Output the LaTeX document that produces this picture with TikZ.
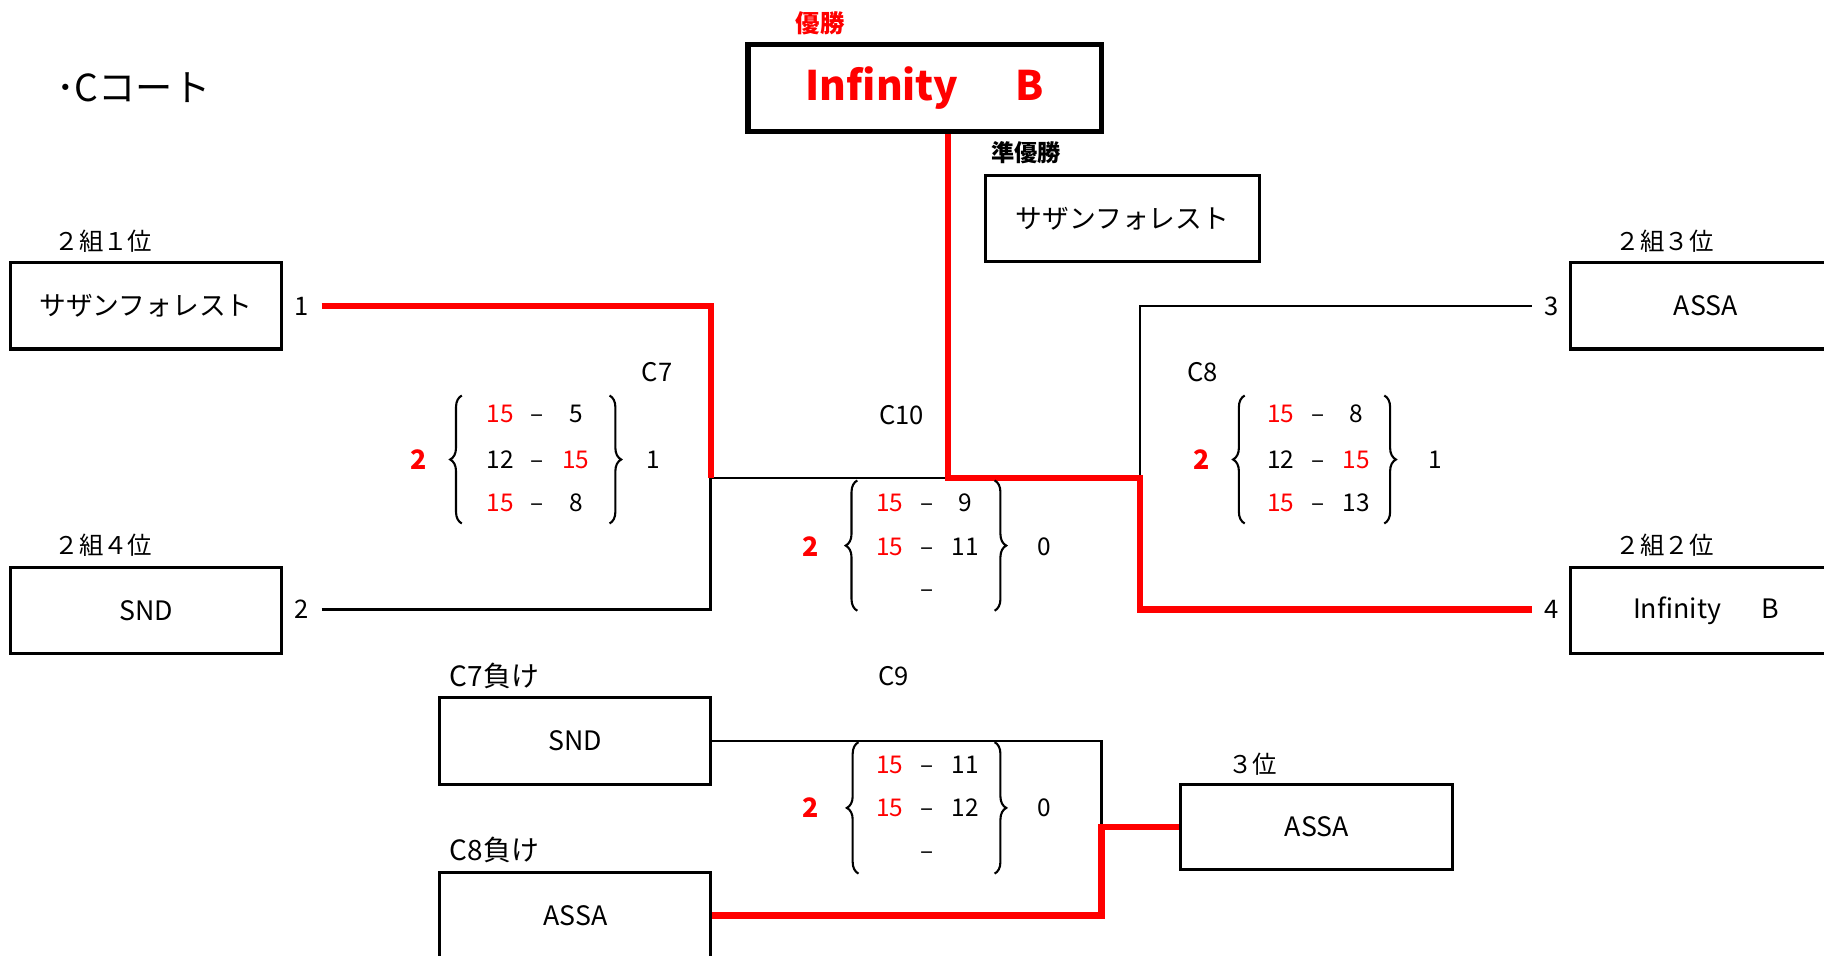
\documentclass[tikz,border=0pt]{standalone}
\usepackage{fontspec}
\setmainfont{Noto Sans CJK JP}
\usetikzlibrary{decorations.pathreplacing}
\begin{document}
\begin{tikzpicture}[x=0.5pt,y=-0.5pt,
    team/.style={draw,line width=1.3pt,minimum width=116.5pt,minimum height=37pt,inner sep=0pt,font=\fontsize{11.5}{13}\selectfont},
    tag/.style={inner sep=0pt,font=\fontsize{10.5}{12}\selectfont},
    game/.style={inner sep=0pt,font=\fontsize{11}{13}\selectfont},
    score/.style={inner sep=0pt,text height=7.6pt,text depth=0pt,font=\fontsize{10.5}{12}\selectfont},
    sets/.style={inner sep=0pt,text=red,font=\fontsize{11.5}{13}\selectfont\bfseries},
    seed/.style={inner sep=0pt,minimum width=17pt,font=\fontsize{11}{13}\selectfont},
    loser/.style={line width=1.1pt},
    winner/.style={line width=2.8pt,red},
    curly/.style={decorate,decoration={brace,amplitude=5pt},line width=0.9pt}]
      \clip (0,0) rectangle (1568,821);
      \node[anchor=west,inner sep=0pt,font=\fontsize{16}{18}\selectfont] (court) at (48,75) {･Cコート};

      \node[draw,line width=2.2pt,minimum width=152pt,minimum height=37.5pt,inner sep=0pt,text=red,font=\fontsize{17.5}{20}\selectfont\bfseries] (champ) at (795,75.5) {Infinity\hspace{1.4em}B};
      \node[tag,text=red,font=\fontsize{10.5}{12}\selectfont\bfseries] (wintag) at (705,20) {優勝};
      \node[team,minimum width=118pt] (second) at (965,188) {サザンフォレスト};
      \node[tag,font=\fontsize{10}{12}\selectfont\bfseries] (runtag) at (882,131) {準優勝};

      \node[team] (t1) at (125.5,263) {サザンフォレスト};
      \node[team] (t4) at (125.5,525) {SND};
      \node[team] (t3) at (1466.5,263) {ASSA};
      \node[team] (t2) at (1466.5,525) {Infinity\hspace{1.5em}B};
      \node[tag] (tag1) at (89,207) {２組１位};
      \node[tag] (tag4) at (89,469) {２組４位};
      \node[tag] (tag3) at (1431,207) {２組３位};
      \node[tag] (tag2) at (1431,469) {２組２位};
      \node[seed] (n1) at (259,263) {1};
      \node[seed] (n2) at (259,524) {2};
      \node[seed] (n3) at (1334,263) {3};
      \node[seed] (n4) at (1334,524) {4};

      \node[team] (c7lose) at (494.5,637) {SND};
      \node[team] (c8lose) at (494.5,787) {ASSA};
      \node[tag,font=\fontsize{12}{14}\selectfont] (tag7) at (425,581) {C7負け};
      \node[tag,font=\fontsize{12}{14}\selectfont] (tag8) at (425,731) {C8負け};
      \node[team,minimum width=117pt,minimum height=36.5pt] (third) at (1132,711) {ASSA};
      \node[tag] (tag3rd) at (1077,657) {３位};

      \node[game] (m7) at (565,320) {C7};
      \node[game] (m10) at (775,357) {C10};
      \node[game] (m8) at (1034,320) {C8};
      \node[game] (m9) at (768,581) {C9};

      \coordinate (j7) at (611,411);
      \coordinate (j10) at (815,411);
      \coordinate (j8) at (980,411);
      \coordinate (j9) at (947,711);

      \draw[loser] (n2.east) -| (j7) -- (j10);
      \draw[loser] (n3.west) -| (j8);
      \draw[loser] (c7lose.east) -| (j9);
      \draw[winner] (n1.east) -| (j7);
      \draw[winner] (champ.south -| j10) |- (j8) |- (n4.west);
      \draw[winner] (c8lose.east) -| (j9) -- (third.west);

      \node[sets] (c7w) at (360,395) {2};
      \node[score] (c7l) at (562,395) {1};
      \draw[curly] (397,450) -- (397,340);
      \draw[curly] (524,340) -- (524,450);
      \foreach \a/\ca/\b/\cb/\yy [count=\i] in {15/red/5/black/356,12/black/15/red/395,15/red/8/black/432}{
        \node[score,text=\ca] (c7a\i) at (430,\yy) {\a};
        \node[score] (c7d\i) at (462,\yy) {–};
        \node[score,text=\cb] (c7b\i) at (495,\yy) {\b};
      }

      \node[sets] (c10w) at (697,470) {2};
      \node[score] (c10l) at (898,470) {0};
      \draw[curly] (737,525) -- (737,413);
      \draw[curly] (855,413) -- (855,525);
      \foreach \a/\b/\yy [count=\i] in {15/9/432,15/11/470}{
        \node[score,text=red] (c10a\i) at (765,\yy) {\a};
        \node[score] (c10d\i) at (797,\yy) {–};
        \node[score] (c10b\i) at (830,\yy) {\b};
      }
      \node[score] (c10d3) at (797,506) {–};

      \node[sets] (c8w) at (1033,395) {2};
      \node[score] (c8l) at (1234,395) {1};
      \draw[curly] (1070,450) -- (1070,340);
      \draw[curly] (1190,340) -- (1190,450);
      \foreach \a/\ca/\b/\cb/\yy [count=\i] in {15/red/8/black/356,12/black/15/red/395,15/red/13/black/432}{
        \node[score,text=\ca] (c8a\i) at (1101,\yy) {\a};
        \node[score] (c8d\i) at (1133,\yy) {–};
        \node[score,text=\cb] (c8b\i) at (1166,\yy) {\b};
      }

      \node[sets] (c9w) at (697,694) {2};
      \node[score] (c9l) at (898,694) {0};
      \draw[curly] (738,751) -- (738,638);
      \draw[curly] (855,638) -- (855,751);
      \foreach \a/\b/\yy [count=\i] in {15/11/657,15/12/694}{
        \node[score,text=red] (c9a\i) at (765,\yy) {\a};
        \node[score] (c9d\i) at (797,\yy) {–};
        \node[score] (c9b\i) at (830,\yy) {\b};
      }
      \node[score] (c9d3) at (797,731) {–};
    \end{tikzpicture}
\end{document}
